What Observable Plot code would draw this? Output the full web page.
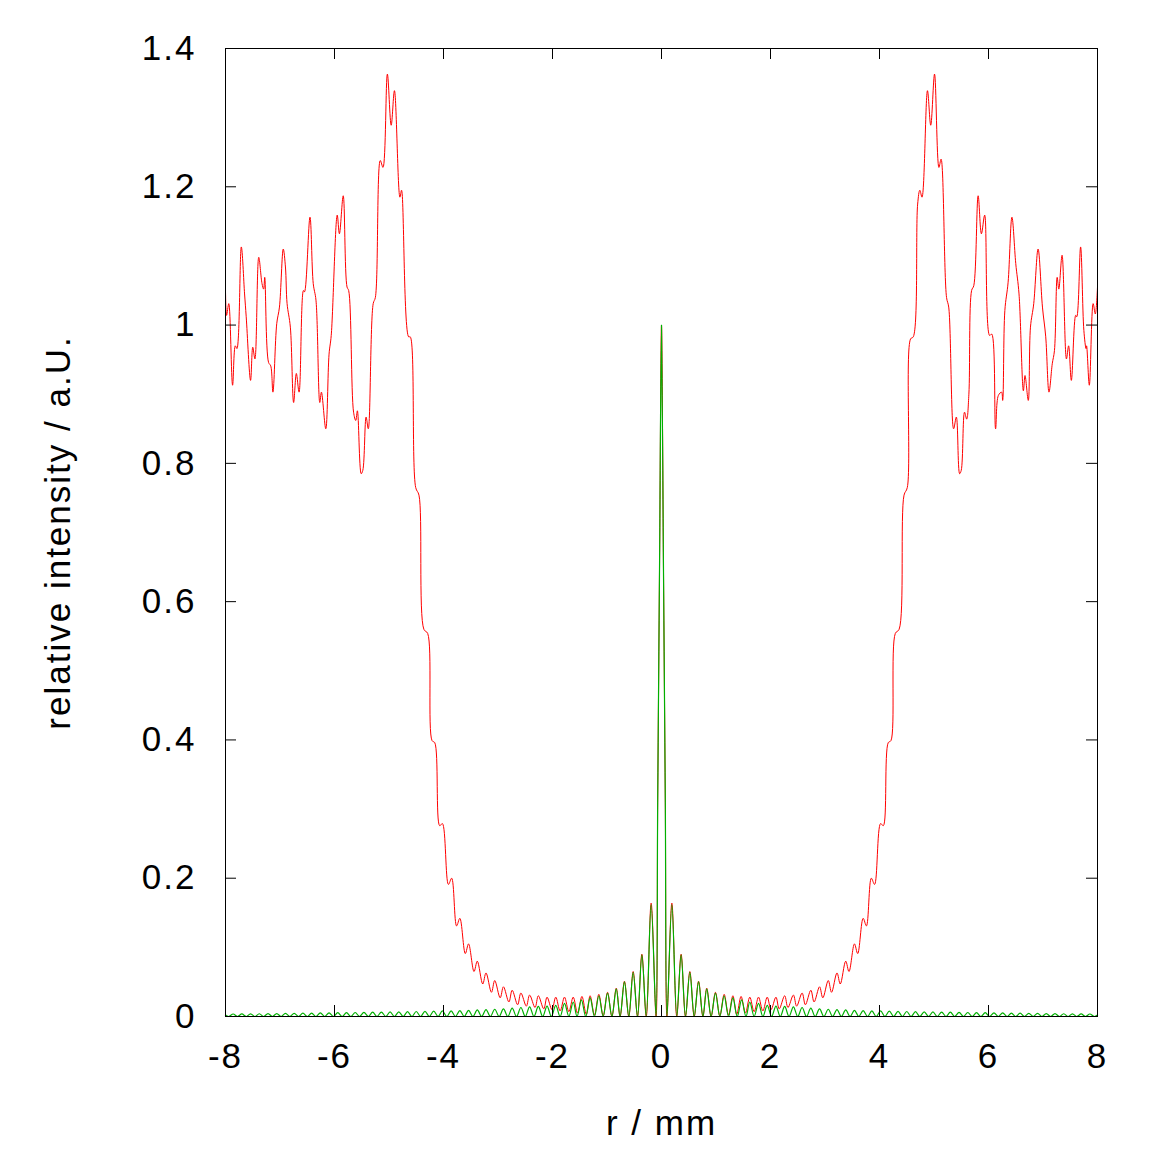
<!DOCTYPE html>
<html><head><meta charset="utf-8">
<script src="https://cdn.jsdelivr.net/npm/d3@7"></script>
<script src="https://cdn.jsdelivr.net/npm/@observablehq/plot@0.6"></script>
<style>
html,body{margin:0;padding:0;background:#fff;}
svg text{letter-spacing:2px;}
</style></head><body><div id="chart"></div>
<script>
const xTicks = [-8,-6,-4,-2,0,2,4,6,8];
const yTicks = [0,0.2,0.4,0.6,0.8,1,1.2,1.4];
const xLabel = "r / mm";
const yLabel = "relative intensity / a.U.";

const redCurve = [
[-8.00,1.050],[-7.98,1.014],[-7.94,1.031],[-7.87,0.913],[-7.82,0.970],[-7.79,0.966],[-7.71,1.113],[-7.65,1.045],[-7.62,1.012],[-7.54,0.920],[-7.50,0.968],[-7.46,0.951],[-7.39,1.098],[-7.33,1.060],[-7.30,1.052],[-7.28,1.069],[-7.21,0.946],[-7.17,0.941],[-7.13,0.903],[-7.06,1.002],[-7.01,1.026],[-6.94,1.110],[-6.90,1.084],[-6.87,1.031],[-6.81,0.997],[-6.75,0.888],[-6.70,0.930],[-6.65,0.903],[-6.57,1.050],[-6.55,1.048],[-6.45,1.156],[-6.39,1.060],[-6.34,1.036],[-6.27,0.888],[-6.24,0.903],[-6.16,0.850],[-6.10,0.958],[-6.06,0.985],[-5.95,1.159],[-5.91,1.132],[-5.84,1.187],[-5.77,1.055],[-5.74,1.050],[-5.65,0.874],[-5.61,0.862],[-5.58,0.876],[-5.51,0.785],[-5.48,0.790],[-5.42,0.867],[-5.38,0.850],[-5.29,1.031],[-5.25,1.040],[-5.16,1.238],[-5.11,1.228],[-5.03,1.363],[-4.96,1.289],[-4.90,1.339],[-4.80,1.185],[-4.77,1.195],[-4.64,0.983],[-4.61,0.983],[-4.51,0.765],[-4.45,0.754],[-4.36,0.560],[-4.29,0.554],[-4.21,0.399],[-4.16,0.396],[-4.07,0.276],[-4.02,0.279],[-3.91,0.191],[-3.85,0.200],[-3.76,0.131],[-3.70,0.142],[-3.60,0.091],[-3.54,0.105],[-3.44,0.065],[-3.38,0.080],[-3.28,0.047],[-3.22,0.063],[-3.12,0.035],[-3.06,0.052],[-2.96,0.027],[-2.90,0.043],[-2.80,0.021],[-2.74,0.038],[-2.64,0.017],[-2.58,0.034],[-2.48,0.015],[-2.42,0.031],[-2.32,0.013],[-2.26,0.030],[-2.16,0.011],[-2.10,0.028],[-2.01,0.010],[-1.94,0.028],[-1.86,0.008],[-1.78,0.028],[-1.70,0.007],[-1.62,0.028],[-1.54,0.005],[-1.46,0.029],[-1.38,0.003],[-1.31,0.030],[-1.23,0.002],[-1.15,0.032],[-1.07,0.001],[-0.99,0.035],[-0.91,0],[-0.83,0.041],[-0.76,0],[-0.68,0.051],[-0.60,0],[-0.52,0.065],[-0.44,0],[-0.36,0.090],[-0.28,0],[-0.19,0.164],[-0.10,0],[-0.07,0.31],[-0.035,0.66],[0,1.0],
[0.035,0.66],[0.07,0.31],[0.10,0],[0.19,0.164],[0.28,0],[0.36,0.090],[0.44,0],[0.52,0.065],[0.60,0],[0.68,0.051],[0.76,0],[0.83,0.041],[0.91,0],[0.99,0.035],[1.07,0.001],[1.15,0.032],[1.23,0.002],[1.31,0.030],[1.38,0.003],[1.46,0.029],[1.54,0.005],[1.62,0.028],[1.70,0.007],[1.78,0.028],[1.86,0.008],[1.94,0.028],[2.01,0.010],[2.10,0.028],[2.16,0.011],[2.26,0.030],[2.32,0.013],[2.42,0.031],[2.48,0.015],[2.58,0.034],[2.64,0.017],[2.74,0.038],[2.80,0.021],[2.90,0.043],[2.96,0.027],[3.06,0.052],[3.12,0.035],[3.22,0.063],[3.28,0.047],[3.38,0.080],[3.44,0.065],[3.54,0.105],[3.60,0.091],[3.70,0.142],[3.76,0.131],[3.85,0.200],[3.91,0.191],[4.02,0.279],[4.07,0.276],[4.16,0.396],[4.21,0.399],[4.29,0.554],[4.36,0.560],[4.45,0.754],[4.51,0.765],[4.57,0.980],[4.62,0.983],[4.70,1.175],[4.74,1.195],[4.78,1.185],[4.88,1.339],[4.94,1.289],[5.01,1.363],[5.09,1.228],[5.13,1.240],[5.23,1.040],[5.27,1.026],[5.36,0.850],[5.41,0.867],[5.47,0.785],[5.50,0.790],[5.56,0.874],[5.60,0.864],[5.64,0.900],[5.69,1.050],[5.73,1.057],[5.81,1.187],[5.87,1.132],[5.93,1.159],[6.02,0.985],[6.06,0.987],[6.13,0.850],[6.18,0.898],[6.24,0.903],[6.26,0.891],[6.30,1.021],[6.36,1.062],[6.43,1.156],[6.50,1.089],[6.56,1.045],[6.64,0.905],[6.67,0.927],[6.73,0.891],[6.77,0.997],[6.83,1.031],[6.91,1.110],[6.99,1.026],[7.05,0.983],[7.11,0.903],[7.17,0.944],[7.21,0.963],[7.26,1.069],[7.29,1.052],[7.35,1.101],[7.43,0.951],[7.47,0.970],[7.52,0.920],[7.60,1.014],[7.62,1.012],[7.69,1.113],[7.75,0.992],[7.79,0.966],[7.80,0.970],[7.85,0.913],[7.92,1.031],[7.96,1.016],[8.00,1.055]
];

const greenCurve = [
[-8.00,0.002],[-7.94,0],[-7.86,0.0036],[-7.78,0],[-7.70,0.0037],[-7.62,0],[-7.54,0.0039],[-7.46,0],[-7.38,0.004],[-7.30,0],[-7.22,0.0042],[-7.14,0],[-7.06,0.0043],[-6.98,0],[-6.90,0.0045],[-6.82,0],[-6.74,0.0046],[-6.66,0],[-6.58,0.0048],[-6.50,0],[-6.42,0.005],[-6.34,0],[-6.26,0.0051],[-6.18,0],[-6.10,0.0053],[-6.02,0],[-5.94,0.0055],[-5.86,0],[-5.78,0.0056],[-5.70,0],[-5.62,0.0058],[-5.54,0],[-5.46,0.006],[-5.38,0],[-5.30,0.0062],[-5.22,0],[-5.14,0.0064],[-5.06,0],[-4.98,0.0066],[-4.90,0],[-4.82,0.0068],[-4.74,0],[-4.66,0.007],[-4.58,0],[-4.50,0.0072],[-4.42,0],[-4.34,0.0075],[-4.26,0],[-4.18,0.0078],[-4.10,0],[-4.02,0.008],[-3.94,0],[-3.86,0.0082],[-3.78,0],[-3.70,0.0085],[-3.62,0],[-3.54,0.009],[-3.46,0],[-3.38,0.0095],[-3.30,0],[-3.22,0.010],[-3.14,0],[-3.06,0.0105],[-2.98,0],[-2.90,0.011],[-2.82,0],[-2.74,0.012],[-2.66,0],[-2.58,0.013],[-2.50,0],[-2.42,0.014],[-2.34,0],[-2.26,0.0145],[-2.18,0],[-2.10,0.015],[-2.02,0],[-1.94,0.016],[-1.86,0],[-1.78,0.019],[-1.70,0],[-1.62,0.021],[-1.55,0],[-1.47,0.024],[-1.39,0],[-1.31,0.027],[-1.23,0],[-1.15,0.030],[-1.07,0],[-0.99,0.034],[-0.91,0],[-0.83,0.040],[-0.76,0],[-0.68,0.050],[-0.60,0],[-0.52,0.064],[-0.44,0],[-0.36,0.089],[-0.28,0],[-0.19,0.162],[-0.10,0],[-0.07,0.31],[-0.035,0.66],[0,1.0],
[0.035,0.66],[0.07,0.31],[0.10,0],[0.19,0.162],[0.28,0],[0.36,0.089],[0.44,0],[0.52,0.064],[0.60,0],[0.68,0.050],[0.76,0],[0.83,0.040],[0.91,0],[0.99,0.034],[1.07,0],[1.15,0.030],[1.23,0],[1.31,0.027],[1.39,0],[1.47,0.024],[1.55,0],[1.62,0.021],[1.70,0],[1.78,0.019],[1.86,0],[1.94,0.016],[2.02,0],[2.10,0.015],[2.18,0],[2.26,0.0145],[2.34,0],[2.42,0.014],[2.50,0],[2.58,0.013],[2.66,0],[2.74,0.012],[2.82,0],[2.90,0.011],[2.98,0],[3.06,0.0105],[3.14,0],[3.22,0.010],[3.30,0],[3.38,0.0095],[3.46,0],[3.54,0.009],[3.62,0],[3.70,0.0085],[3.78,0],[3.86,0.0082],[3.94,0],[4.02,0.008],[4.10,0],[4.18,0.0078],[4.26,0],[4.34,0.0075],[4.42,0],[4.50,0.0072],[4.58,0],[4.66,0.007],[4.74,0],[4.82,0.0068],[4.90,0],[4.98,0.0066],[5.06,0],[5.14,0.0064],[5.22,0],[5.30,0.0062],[5.38,0],[5.46,0.006],[5.54,0],[5.62,0.0058],[5.70,0],[5.78,0.0056],[5.86,0],[5.94,0.0055],[6.02,0],[6.10,0.0053],[6.18,0],[6.26,0.0051],[6.34,0],[6.42,0.005],[6.50,0],[6.58,0.0048],[6.66,0],[6.74,0.0046],[6.82,0],[6.90,0.0045],[6.98,0],[7.06,0.0043],[7.14,0],[7.22,0.0042],[7.30,0],[7.38,0.004],[7.46,0],[7.54,0.0039],[7.62,0],[7.70,0.0037],[7.78,0],[7.86,0.0036],[7.94,0],[8.00,0.002]
];

const redData = redCurve.map(([x, y]) => ({x, y}));
const greenData = greenCurve.map(([x, y]) => ({x, y}));

const W = 1157, H = 1157, mL = 225, mR = 60, mT = 48, mB = 141;
const innerW = W - mL - mR, innerH = H - mT - mB;
const tickLen = 11;
const fs = 35;

const chart = Plot.plot({
  width: W, height: H,
  marginLeft: mL, marginRight: mR, marginTop: mT, marginBottom: mB,
  style: {fontFamily: "'Liberation Sans', Arial, Helvetica, sans-serif", fontSize: fs + "px", color: "black", background: "white"},
  x: {domain: [-8, 8]},
  y: {domain: [0, 1.4]},
  marks: [
    Plot.line(redData, {x: "x", y: "y", stroke: "#ff0000", strokeWidth: 1, curve: "catmull-rom"}),
    Plot.line(greenData, {x: "x", y: "y", stroke: "#00b000", strokeWidth: 1.2, curve: "catmull-rom"}),
    Plot.frame({stroke: "black", strokeWidth: 1}),
    Plot.ruleX(xTicks, {x: d => d, insetTop: innerH - tickLen, stroke: "black"}),
    Plot.ruleX(xTicks, {x: d => d, insetBottom: innerH - tickLen, stroke: "black"}),
    Plot.ruleY(yTicks, {y: d => d, insetRight: innerW - tickLen, stroke: "black"}),
    Plot.ruleY(yTicks, {y: d => d, insetLeft: innerW - tickLen, stroke: "black"}),
    Plot.axisX({ticks: xTicks, tickSize: 0, tickPadding: 27, tickFormat: d => String(d), label: null, fontSize: fs}),
    Plot.axisY({ticks: yTicks, tickSize: 0, tickPadding: 29, tickFormat: d => String(d), label: null, fontSize: fs}),
    Plot.text([xLabel], {frameAnchor: "bottom", dy: 107, textAnchor: "middle", lineAnchor: "middle", fontSize: fs, text: d => d}),
    Plot.text([yLabel], {frameAnchor: "left", dx: -167, rotate: -90, textAnchor: "middle", lineAnchor: "middle", fontSize: fs, text: d => d})
  ]
});
document.getElementById("chart").appendChild(chart);
</script>
</body></html>
